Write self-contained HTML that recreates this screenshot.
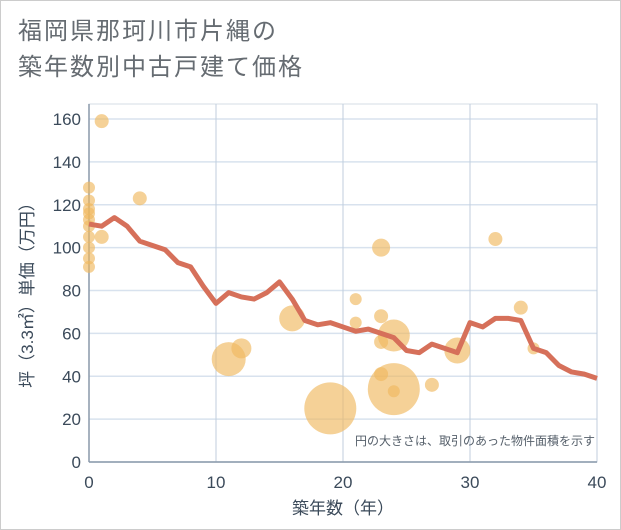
<!DOCTYPE html>
<html><head><meta charset="utf-8"><style>
body{margin:0;background:#fff;}
#wrap{position:relative;width:621px;height:530px;border:1px solid #ccc;box-sizing:border-box;overflow:hidden;font-family:"Liberation Sans","Noto Sans CJK JP",sans-serif;}
.title{position:absolute;left:17px;font-size:24px;line-height:30px;color:#666c72;letter-spacing:2px;}
</style></head><body>
<div id="wrap">
<div class="title" style="top:16px">福岡県那珂川市片縄の</div>
<div class="title" style="top:52px">築年数別中古戸建て価格</div>
<svg id="chart" width="621" height="530" style="position:absolute;left:0;top:0"></svg>
</div>
<script>
const xTicks=[0,10,20,30,40];
const yTicks=[0,20,40,60,80,100,120,140,160];
const lineYears=[0,1,2,3,4,5,6,7,8,9,10,11,12,13,14,15,16,17,18,19,20,21,22,23,24,25,26,27,28,29,30,31,32,33,34,35,36,37,38,39,40];
const linePrices=[111,110,114,110,103,101,99,93,91,82,74,79,77,76,79,84,76,66,64,65,63,61,62,60,58,52,51,55,53,51,65,63,67,67,66,53,51,45,42,41,39];
const bubbleYears=[0,0,0,0,0,0,0,0,0,0,1,1,4,11,12,16,19,21,21,23,23,23,23,24,24,24,27,29,32,34,35];
const bubblePrices=[128,122,118,116,113,110,105,100,95,91,159,105,123,48,53,67,25,76,65,100,68,56,41,59,34,33,36,52,104,72,53];
const bubbleSizes=[6,6,6,6,6,6,6,6,6,6,7,7,7,17,10,13,26,6,6,9,7,7,7,16,26,6,7,13,7,7,6];
const svg=document.getElementById('chart');const NS='http://www.w3.org/2000/svg';
const X0=88,X1=596,Y0=461,Y1=118;
const xs=v=>X0+(v-0)/40*(X1-X0);
const ys=v=>Y0-(v/160)*(Y0-Y1);
function mk(t,a){const e=document.createElementNS(NS,t);for(const k in a)e.setAttribute(k,a[k]);svg.appendChild(e);return e;}
let bg=mk('rect',{x:X0,y:103,width:X1-X0,height:Y0-103,fill:'#fff',stroke:'#d5dde6'});


yTicks.forEach(v=>{
 const l=mk('line',{x1:X0,x2:X1,y1:ys(v),y2:ys(v),stroke:'#d8e2ee','stroke-width':1.5});
 
 
 const t=mk('text',{x:X0-8,y:ys(v)+6,'text-anchor':'end','font-size':17,fill:'#3b4a5a'});t.textContent=v;
 
 
});
xTicks.forEach(v=>{
 const l=mk('line',{x1:xs(v),x2:xs(v),y1:103,y2:Y0,stroke:'#c0cede','stroke-width':1});
 
 
 const t=mk('text',{x:xs(v),y:Y0+26,'text-anchor':'middle','font-size':17,fill:'#3b4a5a'});t.textContent=v;
 
 
});
let ax=mk('line',{x1:X0,x2:X0,y1:103,y2:Y0,stroke:'#8a99aa','stroke-width':1.5});


let ax2=mk('line',{x1:X0,x2:X1,y1:Y0,y2:Y0,stroke:'#8a99aa','stroke-width':1.5});


bubbleYears.forEach((yr,i)=>{
 const c=mk('circle',{cx:xs(yr),cy:ys(bubblePrices[i]),r:bubbleSizes[i],fill:'rgba(240,185,95,0.65)'});
 
 
});
const p=mk('polyline',{points:lineYears.map((y,i)=>xs(y)+','+ys(linePrices[i])).join(' '),fill:'none',stroke:'#d6705a','stroke-width':5,'stroke-linejoin':'round'});


let note=mk('text',{x:594,y:444,'text-anchor':'end','font-size':12,fill:'#555f6a'});note.textContent='円の大きさは、取引のあった物件面積を示す';


let xt=mk('text',{x:342,y:513,'text-anchor':'middle','font-size':17,fill:'#3b4a5a'});xt.textContent='築年数（年）';


let yt=mk('text',{x:32,y:290,'text-anchor':'middle','font-size':17,fill:'#3b4a5a',transform:'rotate(-90 32 290)'});yt.textContent='坪（3.3㎡）単価（万円）';


</script>
</body></html>
